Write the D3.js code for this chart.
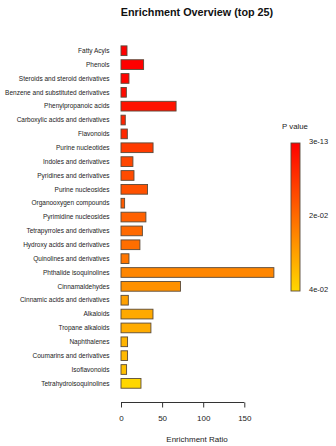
<html>
<head>
    <style>
        body { margin: 0; background: #fff; }
        text { font-family: "Liberation Sans", Arial, sans-serif; }
    </style>
    <script src="https://cdn.jsdelivr.net/npm/d3@7"></script>
</head>
<body>
    <svg id="container" width="336" height="446"></svg>
</body>
<script>
    // data
    let categories = ["Fatty Acyls", "Phenols", "Steroids and steroid derivatives",
        "Benzene and substituted derivatives", "Phenylpropanoic acids",
        "Carboxylic acids and derivatives", "Flavonoids", "Purine nucleotides",
        "Indoles and derivatives", "Pyridines and derivatives", "Purine nucleosides",
        "Organooxygen compounds", "Pyrimidine nucleosides", "Tetrapyrroles and derivatives",
        "Hydroxy acids and derivatives", "Quinolines and derivatives", "Phthalide isoquinolines",
        "Cinnamaldehydes", "Cinnamic acids and derivatives", "Alkaloids", "Tropane alkaloids",
        "Naphthalenes", "Coumarins and derivatives", "Isoflavonoids", "Tetrahydroisoquinolines"]
    let ratios = [7.3, 27.5, 9.7, 6.5, 67, 5.2, 7.7, 39, 14.5, 15.8, 32.3, 4.4, 30.3, 26,
        23, 9.7, 186, 72.4, 8.9, 38.9, 36.4, 8, 8, 6.8, 24.3]
    let pvalues = [3e-13, 1e-9, 0.001, 0.002, 0.0035, 0.0065, 0.0075, 0.011, 0.013, 0.014,
        0.015, 0.017, 0.018, 0.0195, 0.0205, 0.022, 0.025, 0.027, 0.030, 0.0315, 0.032,
        0.0335, 0.0345, 0.0355, 0.04]
    let xTicks = [0, 50, 100, 150]
    let legendTicks = [3e-13, 0.02, 0.04]
    let legendLabels = ["3e-13", "2e-02", "4e-02"]

    let svg = d3.select("#container")

    let data = categories.map((c, i) => ({ name: c, ratio: ratios[i], p: pvalues[i] }))

    let x = d3.scaleLinear().domain([0, 150]).range([121, 244.3])
    let y = d3.scaleBand()
        .domain(categories)
        .range([43.8, 390.3])
        .paddingInner(0.3)
        .paddingOuter(0.15)
    let color = d3.scaleLinear().domain([0, 0.04]).range(["#ff0000", "#ffd700"])

    // title
    svg.append("text")
        .attr("x", 197).attr("y", 16)
        .attr("text-anchor", "middle")
        .attr("font-size", 10.8).attr("font-weight", "bold")
        .attr("fill", "#111")
        .text("Enrichment Overview (top 25)")

    // bars
    svg.selectAll(".bar")
        .data(data)
        .enter()
        .append("rect")
        .attr("class", "bar")
        .attr("x", x(0))
        .attr("y", d => y(d.name))
        .attr("width", d => x(d.ratio) - x(0))
        .attr("height", y.bandwidth())
        .attr("fill", d => color(d.p))
        .attr("stroke", "#5a4a3a")
        .attr("stroke-width", 0.9)

    // category labels
    svg.selectAll(".lab")
        .data(data)
        .enter()
        .append("text")
        .attr("class", "lab")
        .attr("x", 109.5)
        .attr("y", d => y(d.name) + y.bandwidth() / 2)
        .attr("dy", "0.35em")
        .attr("text-anchor", "end")
        .attr("font-size", 6.5)
        .attr("fill", "#222")
        .text(d => d.name)

    // x axis
    let xAxis = d3.axisBottom(x).tickValues(xTicks).tickSize(5).tickPadding(8)
    let gx = svg.append("g")
        .attr("transform", "translate(0,402.5)")
        .call(xAxis)
    gx.select(".domain").attr("d", "M" + x(0) + ",0H" + x(150)).attr("stroke", "#333")
    gx.selectAll(".tick line").attr("stroke", "#333")
    gx.selectAll(".tick text")
        .attr("font-size", 8)
        .attr("fill", "#222")
        .attr("font-family", "\"Liberation Sans\", Arial, sans-serif")

    svg.append("text")
        .attr("x", 197).attr("y", 442)
        .attr("text-anchor", "middle")
        .attr("font-size", 8)
        .attr("fill", "#222")
        .text("Enrichment Ratio")

    // legend
    let defs = svg.append("defs")
    let grad = defs.append("linearGradient")
        .attr("id", "pgrad")
        .attr("x1", 0).attr("y1", 0).attr("x2", 0).attr("y2", 1)
    d3.range(0, 1.01, 0.1).forEach(t => {
        grad.append("stop")
            .attr("offset", t)
            .attr("stop-color", color(t * 0.04))
    })

    let ly = d3.scaleLinear().domain([3e-13, 0.04]).range([143, 291])

    svg.append("text")
        .attr("x", 295).attr("y", 129)
        .attr("text-anchor", "middle")
        .attr("font-size", 7.8)
        .attr("fill", "#222")
        .text("P value")

    svg.append("rect")
        .attr("x", 291).attr("y", ly(3e-13))
        .attr("width", 9)
        .attr("height", ly(0.04) - ly(3e-13))
        .attr("fill", "url(#pgrad)")
        .attr("stroke", "#5a4a3a")
        .attr("stroke-width", 0.9)

    svg.selectAll(".ltick")
        .data(legendTicks)
        .enter()
        .append("text")
        .attr("class", "ltick")
        .attr("x", 309)
        .attr("y", d => ly(d))
        .attr("dy", "0.15em")
        .attr("font-size", 7.5)
        .attr("fill", "#222")
        .text((d, i) => legendLabels[i])
</script>
</html>
